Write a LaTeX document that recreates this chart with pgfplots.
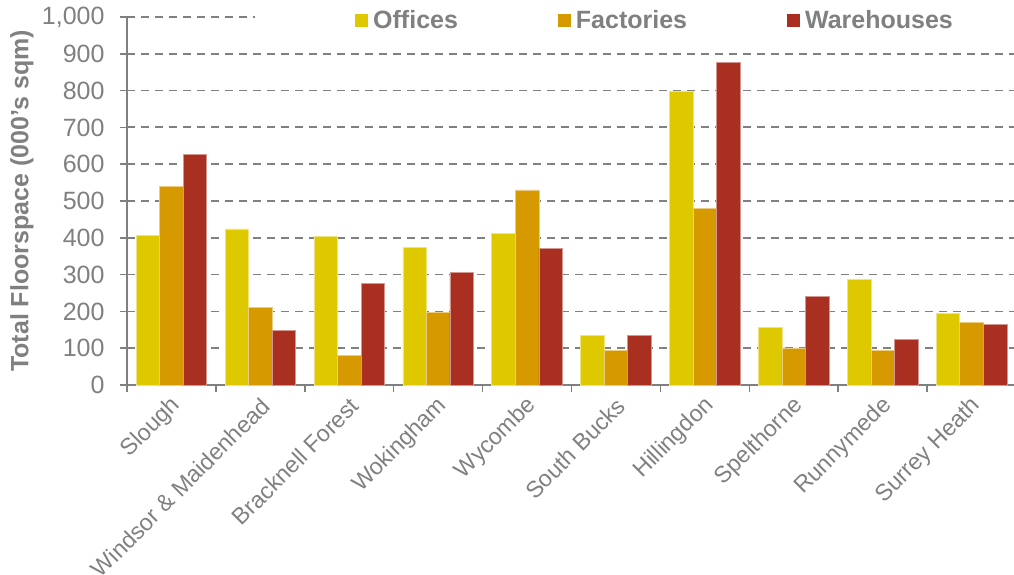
\documentclass[border=0pt]{standalone}
\usepackage{pgfplots}
\pgfplotsset{compat=1.18}
\usepackage{fontspec}
\setmainfont{Liberation Sans}
\definecolor{gr}{RGB}{128,128,128}
\definecolor{offc}{RGB}{222,200,0}
\definecolor{fact}{RGB}{214,153,0}
\definecolor{ware}{RGB}{169,48,32}
\pgfplotsset{sqlegend/.style={legend image code/.code={\fill[##1,draw=none] (0pt,-6.5pt) rectangle (13pt,6.5pt);}}}
\begin{document}
\begin{tikzpicture}
\begin{axis}[
  at={(0pt,0pt)}, anchor=south west,
  scale only axis, width=889pt, height=368pt,
  xmin=-0.5, xmax=9.5, ymin=0, ymax=1000,
  axis x line*=bottom, axis y line*=left,
  axis line style={gr, line width=1.8pt},
  ytick={0,100,...,1000},
  xtick={0,...,9},
  xticklabels={Slough,Windsor \& Maidenhead,Bracknell Forest,Wokingham,Wycombe,South Bucks,Hillingdon,Spelthorne,Runnymede,Surrey Heath},
  minor xtick={-0.5,0.5,...,9.5},
  major x tick style={draw=none},
  minor x tick style={gr, line width=1.5pt},
  y tick style={gr, line width=1.5pt},
  tick align=outside,
  major tick length=7pt, minor tick length=7pt,
  ymajorgrids,
  grid style={gr, line width=1.8pt, dash pattern=on 8pt off 6pt},
  tick label style={font=\fontsize{25}{30}\selectfont, text=gr},
  yticklabel style={xshift=-12pt},
  xticklabel style={font=\fontsize{23.2}{28}\selectfont, rotate=45, anchor=east, xshift=0pt, yshift=-11pt},
  /pgf/number format/assume math mode=true,
  /pgf/number format/1000 sep={,},
  ylabel={Total Floorspace (000's sqm)},
  ylabel style={font=\fontsize{25}{30}\selectfont\bfseries, text=gr, at={(rel axis cs:-0.1181,0.5)}, anchor=center},
  legend columns=3,
  legend cell align=left,
  legend style={at={(rel axis cs:0.144,0.9918)}, anchor=west, draw=none, fill=white,
    inner xsep=100pt, inner ysep=8pt,
    font=\fontsize{25}{30}\selectfont\bfseries, text=gr,
    nodes={inner sep=0pt},
    /tikz/every odd column/.append style={column sep=5pt},
    /tikz/every even column/.append style={column sep=100pt}},
]
\addplot[ybar, sqlegend, bar width=0.265, bar shift=-0.265, fill=offc, draw=offc!50!white, line width=0.6pt]
  coordinates {(0,406) (1,424) (2,404) (3,373) (4,413) (5,134) (6,797) (7,157) (8,286) (9,195)};
\addplot[ybar, sqlegend, bar width=0.265, bar shift=0, fill=fact, draw=fact!50!white, line width=0.6pt]
  coordinates {(0,540) (1,211) (2,81) (3,197) (4,530) (5,95) (6,480) (7,101) (8,94) (9,170)};
\addplot[ybar, sqlegend, bar width=0.265, bar shift=0.265, fill=ware, draw=ware!50!white, line width=0.6pt]
  coordinates {(0,627) (1,149) (2,277) (3,305) (4,371) (5,135) (6,877) (7,240) (8,123) (9,165)};
\legend{Offices,Factories,Warehouses}
\end{axis}
\pgfresetboundingbox
\path[use as bounding box] (-127pt,-190pt) rectangle (887pt,385pt);
\end{tikzpicture}
\end{document}
